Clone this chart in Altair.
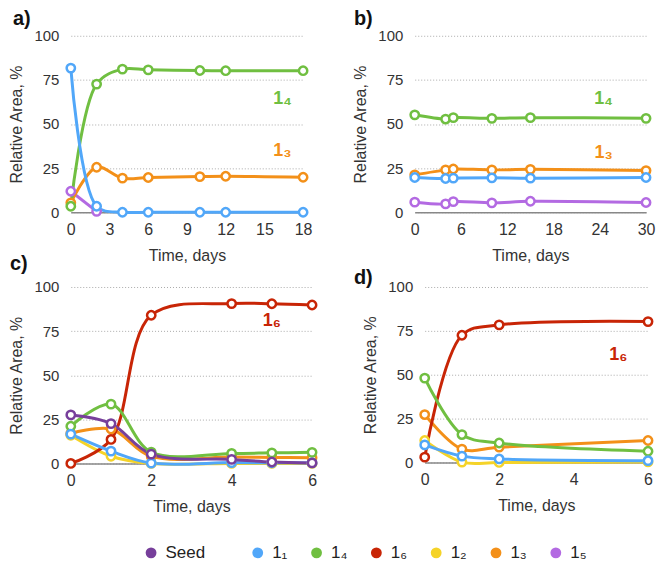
import altair as alt
import pandas as pd

SERIES = ["Seed", "1₁", "1₄", "1₆", "1₂", "1₃", "1₅"]
COLORS = ["#773F9B", "#51A7F9", "#70BF41", "#C82506", "#F5D328", "#F39019", "#B36AE2"]
Z_ORDER = ["1₅", "1₂", "1₃", "1₆", "1₄", "1₁", "Seed"]

# ---- panel a)
a_days = [0, 2, 4, 6, 10, 12, 18]
a_s11 = [81.7, 3.4, 0.0, 0.0, 0.0, 0.0, 0.0]
a_s14 = [3.4, 72.6, 81.1, 80.7, 80.3, 80.2, 80.2]
a_s13 = [5.3, 25.5, 19.3, 19.7, 20.2, 20.4, 19.8]
a_s15_days = [0, 2]
a_s15 = [11.9, 0.5]
a_xticks = [0, 3, 6, 9, 12, 15, 18]
a_labels = ["1₄", "1₃"]
a_label_x = [16.4, 16.4]
a_label_y = [64.0, 34.5]

# ---- panel b)
b_days = [0, 4, 5, 10, 15, 30]
b_s14 = [55.2, 52.8, 53.6, 53.2, 53.6, 53.2]
b_s13 = [21.2, 24.0, 24.5, 24.0, 24.3, 23.6]
b_s11 = [19.7, 19.1, 19.3, 19.5, 19.3, 19.7]
b_s15 = [5.7, 4.7, 6.0, 5.3, 6.2, 5.5]
b_xticks = [0, 6, 12, 18, 24, 30]
b_labels = ["1₄", "1₃"]
b_label_x = [24.5, 24.5]
b_label_y = [64.0, 33.5]

# ---- panel c)
c_days = [0, 1, 2, 4, 5, 6]
c_seed = [27.5, 22.6, 5.3, 2.3, 0.8, 0.3]
c_s11 = [16.6, 7.0, 0.2, 0.5, 0.4, 0.3]
c_s14 = [21.1, 33.6, 6.4, 5.7, 6.0, 6.3]
c_s16 = [0.0, 13.6, 84.0, 90.6, 90.5, 89.8]
c_s12 = [16.0, 4.1, 0.0, 0.0, 0.0, 0.0]
c_s13 = [17.0, 19.5, 4.0, 3.6, 3.4, 3.2]
c_xticks = [0, 2, 4, 6]
c_labels = ["1₆"]
c_label_x = [5.0]
c_label_y = [81.0]

# ---- panel d)
d_days = [0, 1, 2, 6]
d_s16 = [3.0, 72.5, 78.4, 80.3]
d_s14 = [48.1, 15.9, 11.1, 6.4]
d_s13 = [27.3, 7.6, 8.7, 12.5]
d_s11 = [10.0, 3.6, 2.0, 1.0]
d_s12 = [12.5, 0.2, 0.0, 0.3]
d_xticks = [0, 2, 4, 6]
d_labels = ["1₆"]
d_label_x = [5.2]
d_label_y = [61.5]


def long_df(series):
    rows = []
    for name in Z_ORDER:
        if name in series:
            days, vals = series[name]
            for x, y in zip(days, vals):
                rows.append({"day": x, "value": y, "series": name})
    return pd.DataFrame(rows)


def label_df(names, xs, ys):
    return pd.DataFrame({"series": names, "day": xs, "value": ys})


COLOR_SCALE = alt.Scale(domain=SERIES, range=COLORS)
LEGEND = alt.Legend(
    orient="none", legendX=72, legendY=510, direction="horizontal", columns=7,
    title=None, symbolType="circle", symbolSize=70, symbolStrokeWidth=2.5,
    symbolFillColor="white", labelFontSize=17, labelColor="#222",
    columnPadding=19, labelOffset=6,
    labelExpr="datum.label == 'Seed' ? 'Seed\u2800\u2800' : datum.label",
)


def color_enc():
    return alt.Color("series:N", scale=COLOR_SCALE, legend=LEGEND)


def panel(df, lab, xmax, xticks, w, h, letter, lx, ly):
    x = alt.X("day:Q", scale=alt.Scale(domain=[0, xmax], nice=False, zero=True),
              axis=alt.Axis(values=xticks, title="Time, days"))
    y = alt.Y("value:Q", scale=alt.Scale(domain=[0, 100], nice=False),
              axis=alt.Axis(values=[0, 25, 50, 75, 100], title="Relative Area, %"))
    base = alt.Chart(df)
    lines = base.mark_line(interpolate="catmull-rom", strokeWidth=3).encode(
        x=x, y=y, color=color_enc())
    points = base.mark_point(filled=False, fill="white", size=70, strokeWidth=2.5,
                             opacity=1).encode(x=x, y=y, color=color_enc())
    text = alt.Chart(lab).mark_text(fontSize=18, fontWeight="bold").encode(
        x=x, y=y, text="series:N", color=color_enc())
    let = alt.Chart(pd.DataFrame({"t": [letter]})).mark_text(
        fontSize=20, fontWeight="bold", align="left", baseline="alphabetic",
        color="#111").encode(x=alt.value(lx), y=alt.value(ly), text="t:N")
    return alt.layer(lines, points, text, let).properties(width=w, height=h)


pa = panel(long_df({"1₁": (a_days, a_s11), "1₄": (a_days, a_s14),
                    "1₃": (a_days, a_s13), "1₅": (a_s15_days, a_s15)}),
           label_df(a_labels, a_label_x, a_label_y), 18, a_xticks, 233, 177,
           "a)", -58, -11)
pb = panel(long_df({"1₁": (b_days, b_s11), "1₄": (b_days, b_s14),
                    "1₃": (b_days, b_s13), "1₅": (b_days, b_s15)}),
           label_df(b_labels, b_label_x, b_label_y), 30, b_xticks, 232, 177,
           "b)", -61, -11)
pc = panel(long_df({"Seed": (c_days, c_seed), "1₁": (c_days, c_s11),
                    "1₄": (c_days, c_s14), "1₆": (c_days, c_s16),
                    "1₂": (c_days, c_s12), "1₃": (c_days, c_s13)}),
           label_df(c_labels, c_label_x, c_label_y), 6, c_xticks, 242, 177,
           "c)", -61, -17)
pd_ = panel(long_df({"1₁": (d_days, d_s11), "1₄": (d_days, d_s14),
                     "1₆": (d_days, d_s16), "1₂": (d_days, d_s12),
                     "1₃": (d_days, d_s13)}),
            label_df(d_labels, d_label_x, d_label_y), 6, d_xticks, 224, 176,
            "d)", -71, -3)

row1 = alt.hconcat(pa, pb, spacing=39)
row2 = alt.hconcat(pc, pd_, spacing=32)

chart = alt.vconcat(row1, row2, spacing=-9).properties(
    padding={"left": 0, "top": 0, "right": 0, "bottom": 0}
).configure(font="Liberation Sans").configure_view(stroke=None).configure_axis(
    labelColor="#333", titleColor="#333", titleFontWeight="normal",
    titleFontSize=16, labelFontSize=15, ticks=False, tickSize=0,
).configure_axisY(
    grid=True, gridDash=[1, 2], gridColor="#aaa", gridWidth=1, domain=False,
    labelPadding=12, titlePadding=9,
).configure_axisX(
    grid=False, domain=True, domainColor="#888", domainWidth=1.5,
    labelPadding=9, titlePadding=10, labelFontSize=16, labelFlush=False,
)

chart.save("out.html", embed_options={"renderer": "svg", "actions": False})
